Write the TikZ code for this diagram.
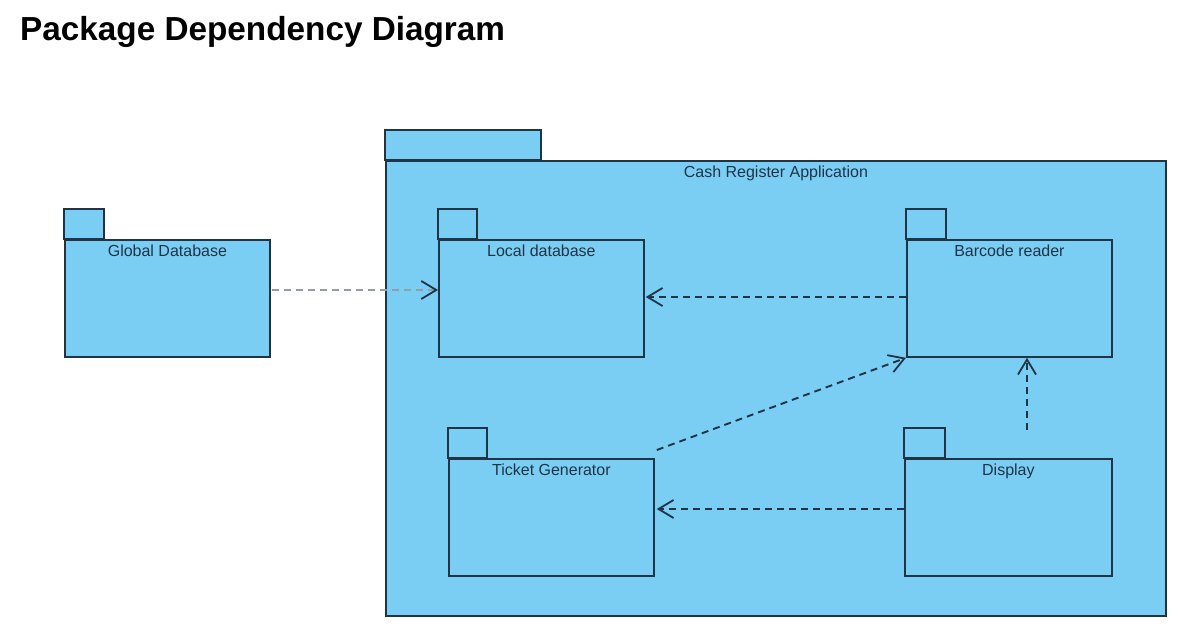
\documentclass[tikz,border=0pt]{standalone}
\usepackage{fontspec}
\setmainfont{Liberation Sans}
\usetikzlibrary{arrows.meta,calc}
\definecolor{pkgfill}{RGB}{122,206,244}
\definecolor{pkgline}{RGB}{33,52,70}
\definecolor{depgray}{RGB}{150,158,165}
\begin{document}
\begin{tikzpicture}[x=1pt,y=-1pt,
  pkg/.style={draw=pkgline,fill=pkgfill,line width=1.8pt,inner sep=0pt,anchor=north west},
  pkgtab/.style={draw=pkgline,fill=pkgfill,line width=1.8pt},
  pkgtext/.style={font=\fontsize{16}{19}\selectfont,text=pkgline,anchor=base},
  dep/.style={draw=pkgline,line width=1.9pt,dash pattern=on 7pt off 5pt,
    -{Straight Barb[length=15pt,width=18pt,line width=1.8pt,color=pkgline]}}]
\useasboundingbox[fill=white] (0,0) rectangle (1178,626);

\node[anchor=base west,font=\bfseries\fontsize{33.3}{40}\selectfont,inner sep=0pt] (title) at (20,41) {Package Dependency Diagram};

% outer package
\draw[pkgtab] (385,130) rectangle (541,160);
\node[pkg,minimum width=780,minimum height=455] (app) at (385,160) {};
\node[pkgtext] (applbl) at ($(app.north)+(0,17)$) {Cash Register Application};

% Global Database
\draw[pkgtab] (64,209) rectangle (104,239);
\node[pkg,minimum width=205,minimum height=117] (gdb) at (64,239) {};
\node[pkgtext] (gdblbl) at ($(gdb.north)+(0,17)$) {Global Database};

% Local database
\draw[pkgtab] (438,209) rectangle (477,239);
\node[pkg,minimum width=205,minimum height=117] (ldb) at (438,239) {};
\node[pkgtext] (ldblbl) at ($(ldb.north)+(0,17)$) {Local database};

% Barcode reader
\draw[pkgtab] (906,209) rectangle (946,239);
\node[pkg,minimum width=205,minimum height=117] (br) at (906,239) {};
\node[pkgtext] (brlbl) at ($(br.north)+(0,17)$) {Barcode reader};

% Ticket Generator
\draw[pkgtab] (448,428) rectangle (487,458);
\node[pkg,minimum width=205,minimum height=117] (tg) at (448,458) {};
\node[pkgtext] (tglbl) at ($(tg.north)+(0,17)$) {Ticket Generator};

% Display
\draw[pkgtab] (904,428) rectangle (945,458);
\node[pkg,minimum width=207,minimum height=117] (disp) at (904,458) {};
\node[pkgtext] (displbl) at ($(disp.north)+(0,17)$) {Display};

% dependencies
\draw[dep,draw=depgray] ($(gdb.north east)+(1,51)$) -- ($(ldb.north west)+(0,51)$);
\draw[dep] ($(br.north west)+(0,58)$) -- ($(ldb.north east)+(1,58)$);
\draw[dep] ([shift={(2,-8)}]tg.north east) -- (br.south west);
\coordinate (dtop) at (1027,430);
\draw[dep] (dtop) -- (dtop |- br.south);
\draw[dep] ($(disp.north west)+(0,51)$) -- ($(tg.north east)+(2,51)$);
\end{tikzpicture}
\end{document}
